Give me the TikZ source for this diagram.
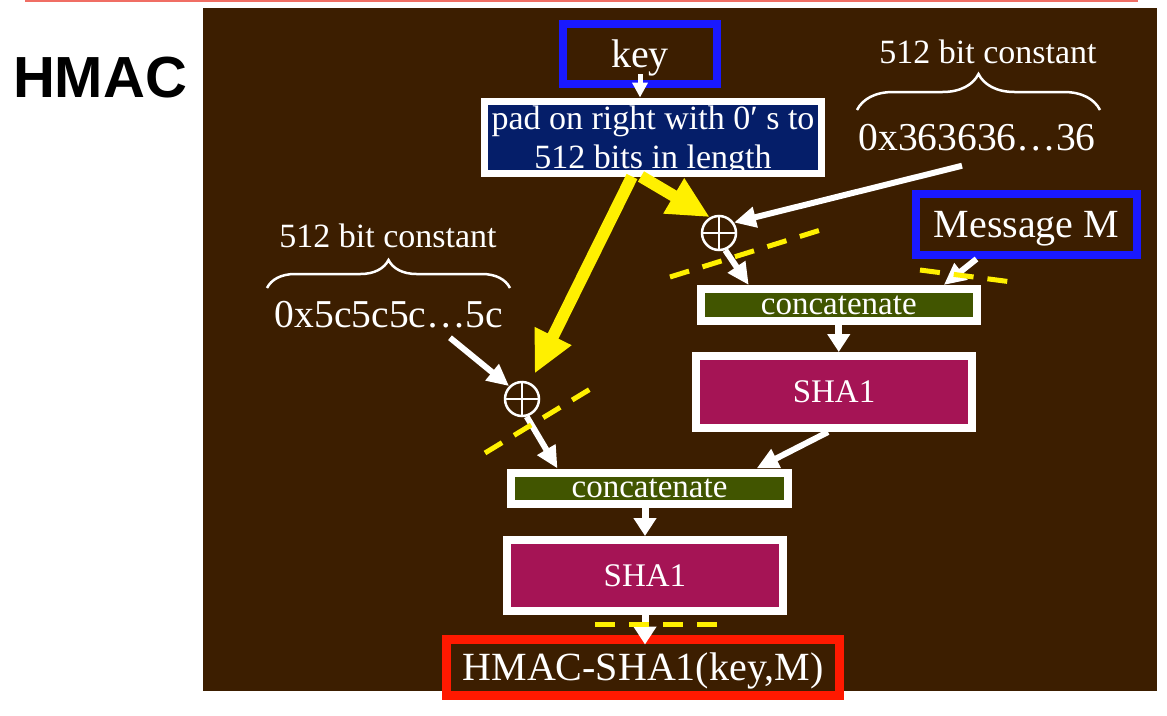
\documentclass[tikz,border=0pt]{standalone}
\usepackage{fontspec}
\setmainfont{Liberation Serif}
\newfontfamily\titlefont{Liberation Sans}
\usetikzlibrary{arrows.meta,decorations.pathreplacing}

\definecolor{slidebrown}{RGB}{60,30,0}
\definecolor{padnavy}{RGB}{5,30,105}
\definecolor{catgreen}{RGB}{65,85,0}
\definecolor{shamagenta}{RGB}{165,20,85}
\definecolor{inblue}{RGB}{25,25,255}
\definecolor{outred}{RGB}{255,25,0}
\definecolor{rulered}{RGB}{240,110,100}
\definecolor{hiyellow}{RGB}{255,240,0}

\begin{document}
\begin{tikzpicture}[x=1pt,y=-1pt,
  box/.style={draw=white,line width=8pt,text=white,inner sep=0pt,text depth=0pt,align=center},
  inbox/.style={draw=inblue,line width=8pt,text=white,inner sep=0pt,text depth=0pt},
  lbl/.style={text=white,inner sep=0pt,anchor=base},
  xor/.style={circle,draw=white,line width=2.5pt,minimum size=34pt,inner sep=0pt},
  warrow/.style={draw=white,line width=6pt,-{Triangle[length=22pt,width=20pt]}},
  varrow/.style={draw=white,line width=7pt,-{Triangle[length=18pt,width=22pt]}},
  yarrow/.style={draw=hiyellow,line width=12pt,-{Triangle[length=42pt,width=38pt]}},
  ydash/.style={draw=hiyellow,line width=5pt,dash pattern=on 20pt off 14pt},
  bigbrace/.style={draw=white,line width=2.5pt,decorate},
  big/.style={font=\fontsize{40}{40}\selectfont},
  mid/.style={font=\fontsize{33}{33}\selectfont}]
\useasboundingbox (0,0) rectangle (1167,715);
%
\draw[rulered,line width=2.5pt] (25,1) -- (1138,1);
\fill[slidebrown] (203,8) rectangle (1157,691);
\node[anchor=base,font=\titlefont\bfseries\fontsize{58}{58}\selectfont] (title) at (100,97) {HMAC};
%
\node[inbox,big,minimum width=154pt,minimum height=60pt] (key) at (640,54) {key};
\node[box,fill=padnavy,line width=7pt,minimum width=337pt,minimum height=72pt,font=\fontsize{34}{39}\selectfont] (pad) at (653,137) {pad on right with 0′ s to\\512 bits in length};
\node[inbox,big,minimum width=221pt,minimum height=61pt] (msg) at (1026.5,224.5) {Message M};
\node[box,mid,fill=catgreen,minimum width=276.5pt,minimum height=32pt] (catA) at (838.75,305) {concatenate};
\node[box,mid,fill=shamagenta,minimum width=276pt,minimum height=72pt] (shaA) at (834,392) {SHA1};
\node[box,mid,fill=catgreen,minimum width=277pt,minimum height=31pt] (catB) at (649.5,488) {concatenate};
\node[box,mid,fill=shamagenta,minimum width=276pt,minimum height=71pt] (shaB) at (645,575.5) {SHA1};
\node[box,big,draw=outred,line width=9pt,minimum width=392.5pt,minimum height=56pt] (hmac) at (643,667) {HMAC-SHA1(key,M)};
%
\node[lbl,font=\fontsize{34}{34}\selectfont] (constA) at (988,63) {512 bit constant};
\node[lbl,font=\fontsize{39.5}{39.5}\selectfont] (hexA) at (977,150) {0x363636…36};
\node[lbl,font=\fontsize{34}{34}\selectfont] (constB) at (388,247) {512 bit constant};
\node[lbl,font=\fontsize{39.5}{39.5}\selectfont] (hexB) at (389,327) {0x5c5c5c…5c};
\draw[bigbrace,decoration={brace,amplitude=36pt}] (857,110) -- (1100,110);
\draw[bigbrace,decoration={brace,amplitude=28pt}] (267,288) -- (510,288);
%
\node[xor] (xora) at (719,233) {};
\node[xor] (xorb) at (522,399) {};
\draw[white,line width=2.5pt] (xora.north) -- (xora.south) (xora.west) -- (xora.east);
\draw[white,line width=2.5pt] (xorb.north) -- (xorb.south) (xorb.west) -- (xorb.east);
%
\draw[white,line width=5pt,-{Triangle[length=15pt,width=15pt]}] ([yshift=14pt]key.south) -- (key.south |- pad.north);
\draw[yarrow] ([xshift=-12pt]pad.south) -- (xora.120);
\draw[yarrow,shorten >=10pt] ([xshift=-21pt]pad.south) -- (xorb);
\draw[warrow] ([shift={(-15pt,-15pt)}]hexA.south) -- (xora.35);
\draw[warrow] ([shift={(61pt,-10pt)}]hexB.south) -- (xorb.north west);
\draw[warrow] (xora.-70) -- ([xshift=-90pt]catA.north);
\draw[warrow] ([xshift=-50pt]msg.south) -- ([xshift=105pt]catA.north);
\draw[varrow] (catA.south) -- (catA.south |- shaA.north);
\draw[warrow] ([xshift=-6pt]shaA.south) -- ([xshift=107pt]catB.north);
\draw[warrow] (xorb.-75) -- ([xshift=-92pt]catB.north);
\draw[varrow] (shaB.north |- catB.south) -- (shaB.north);
\draw[varrow,shorten >=-10pt] (shaB.south) -- (shaB.south |- hmac.north);
%
\draw[ydash] (670,277) -- (827,228);
\draw[ydash] (920,270) -- (1012,282);
\draw[ydash] (485,453) -- (592,388);
\draw[ydash] (595,624) -- (720,624);
\end{tikzpicture}
\end{document}
